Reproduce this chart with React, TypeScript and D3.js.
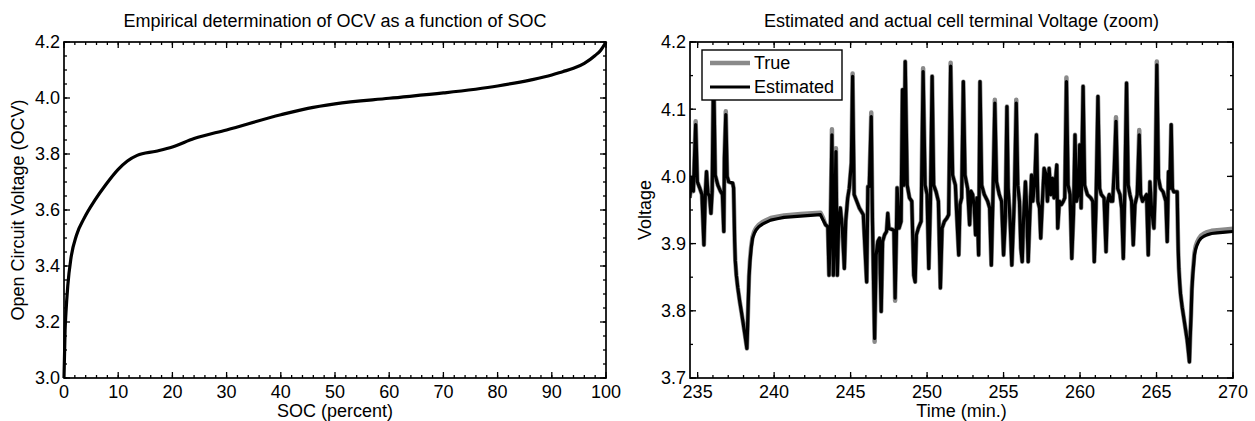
import { useEffect, useRef } from "react";
import * as d3 from "d3";

// left panel: OCV vs SOC
const socPct = [
  0, 0.2, 0.35, 0.7, 1.3, 2.3, 3.7, 5.7, 7.7, 10,
  11.7, 13.5, 17, 20, 24, 30, 40, 45, 50, 60,
  70, 80, 86, 90, 92, 94, 96, 98, 99, 100,
];
const ocvVolts = [
  3.0, 3.17, 3.23, 3.33, 3.43, 3.51, 3.57, 3.635, 3.69, 3.745,
  3.775, 3.795, 3.81, 3.825, 3.855, 3.886, 3.94, 3.963, 3.979, 3.999,
  4.018, 4.043, 4.064, 4.082, 4.094, 4.106, 4.124, 4.152, 4.17, 4.2,
];

const socTicks = [0, 10, 20, 30, 40, 50, 60, 70, 80, 90, 100];
const ocvTicks = [3.0, 3.2, 3.4, 3.6, 3.8, 4.0, 4.2];

// right panel: terminal voltage (zoom)
const timeMin = [
  234.48, 234.63, 234.72, 234.87, 234.98, 235.13, 235.28, 235.41, 235.5, 235.58,
  235.67, 235.78, 235.87, 235.95, 236.04, 236.15, 236.32, 236.49, 236.62, 236.71,
  236.75, 236.84, 236.93, 237.03,
  237.29, 237.35, 237.38, 237.42, 237.46, 237.53, 237.62, 237.75, 237.85, 237.96,
  238.08, 238.22, 238.27, 238.31, 238.36, 238.42, 238.5, 238.59, 238.7, 238.81,
  239.0, 239.24, 239.5, 239.78, 240.2, 240.65, 241.73, 243.03,
  243.2, 243.36, 243.51, 243.59, 243.68, 243.78, 243.87, 243.96, 244.04, 244.13,
  244.22, 244.33, 244.46, 244.59, 244.68, 244.81, 244.91, 245.05, 245.13, 245.23,
  245.4, 245.57, 245.83, 246.05, 246.13, 246.22, 246.35, 246.43, 246.57, 246.67,
  246.78, 246.89, 247.0, 247.09, 247.22, 247.35, 247.43, 247.5, 247.83, 247.91,
  248.0, 248.04, 248.17, 248.3, 248.39, 248.48, 248.57, 248.7, 248.85, 249.0,
  249.13, 249.22, 249.3, 249.43, 249.61, 249.74, 249.87, 250.0, 250.11, 250.22,
  250.33, 250.43, 250.59, 250.74, 250.87, 250.98, 251.13, 251.3, 251.41, 251.54,
  251.67, 251.85, 251.96, 252.07, 252.15, 252.26, 252.37, 252.48, 252.65, 252.78,
  252.87, 252.98, 253.09, 253.17, 253.26, 253.37, 253.46, 253.57, 253.74, 253.96,
  254.09, 254.2, 254.3, 254.43, 254.54, 254.72, 254.87, 255.0, 255.11, 255.22,
  255.3, 255.43, 255.54, 255.7, 255.83, 255.93, 256.04, 256.13, 256.22, 256.3,
  256.43, 256.52, 256.61, 256.72, 256.83, 256.91, 257.04, 257.15, 257.24, 257.35,
  257.43, 257.54, 257.65, 257.78, 257.87, 257.98, 258.09, 258.2, 258.3, 258.48,
  258.54, 258.65, 258.78, 258.91, 259.0, 259.11, 259.22, 259.35, 259.46, 259.57,
  259.67, 259.76, 259.87, 259.98, 260.07, 260.2, 260.3, 260.48, 260.7, 260.83,
  260.93, 261.04, 261.17, 261.28, 261.39, 261.57, 261.7, 261.8, 261.91, 262.0,
  262.13, 262.24, 262.35, 262.46, 262.61, 262.72, 262.83, 262.93, 263.04, 263.15,
  263.26, 263.37, 263.48, 263.59, 263.74, 263.87, 263.96, 264.09, 264.22, 264.35,
  264.46, 264.57, 264.67, 264.83, 264.91, 265.02, 265.13, 265.26, 265.43, 265.61,
  265.7, 265.78, 265.87, 265.96, 266.04, 266.13,
  266.35, 266.39, 266.42, 266.46, 266.52, 266.57, 266.68, 266.78, 266.9, 267.0,
  267.08, 267.15, 267.2, 267.26, 267.31, 267.37, 267.48, 267.56, 267.65, 267.78,
  267.91, 268.1, 268.3, 268.6, 268.96, 269.5, 270.0,
];

const estimatedV = [
  3.968, 3.997, 3.978, 4.077, 3.992, 3.983, 3.973, 3.898, 3.973, 4.007,
  3.975, 3.97, 3.945, 3.978, 4.16, 4.002, 3.987, 3.978, 3.973, 3.918,
  4.027, 4.092, 4.0, 3.992,
  3.99, 3.983, 3.95, 3.903, 3.875, 3.853, 3.835, 3.814, 3.8, 3.784,
  3.766, 3.744, 3.78, 3.814, 3.85, 3.873, 3.893, 3.908, 3.915, 3.92,
  3.925, 3.929, 3.932, 3.935, 3.937, 3.939, 3.941, 3.943,
  3.935, 3.928, 3.925, 3.853, 3.923, 4.062, 3.853, 3.923, 4.037, 3.853,
  3.933, 3.953, 3.923, 3.863, 3.933, 3.968, 3.982, 4.02, 4.149, 3.973,
  3.963, 3.953, 3.943, 3.843, 3.985, 3.985, 4.089, 3.933, 3.759, 3.883,
  3.903, 3.908, 3.799, 3.903, 3.913, 3.918, 3.945, 3.923, 3.92, 3.819,
  3.923, 3.983, 3.923, 3.933, 4.129, 3.987, 4.171, 3.987, 3.968, 3.963,
  3.853, 3.843, 3.913, 3.923, 3.933, 4.156, 3.987, 3.973, 3.863, 3.963,
  4.149, 3.987, 3.977, 3.963, 3.834, 3.923, 3.933, 3.938, 3.943, 4.164,
  4.002, 3.987, 3.933, 3.883, 3.958, 3.968, 4.141, 4.002, 3.982, 3.928,
  3.978, 3.973, 3.953, 3.913, 3.968, 3.883, 4.141, 3.987, 3.973, 3.963,
  3.953, 3.868, 3.963, 4.109, 3.992, 3.973, 3.963, 3.883, 3.933, 4.104,
  3.983, 3.933, 3.868, 3.963, 4.109, 3.987, 3.963, 3.893, 3.873, 3.933,
  3.992, 3.948, 3.873, 3.943, 4.002, 3.963, 3.992, 4.062, 3.963, 3.953,
  3.908, 3.963, 4.012, 4.002, 3.963, 4.012, 3.973, 3.997, 3.968, 4.017,
  3.923, 3.963, 3.958, 3.963, 3.968, 4.141, 3.987, 3.973, 3.878, 3.943,
  4.062, 3.963, 3.973, 4.047, 3.953, 4.134, 3.987, 3.973, 3.968, 3.963,
  3.873, 3.953, 4.119, 3.982, 3.973, 3.968, 3.888, 3.963, 3.973, 3.963,
  3.963, 4.012, 4.082, 3.982, 3.973, 3.953, 3.878, 3.982, 4.139, 3.987,
  3.973, 3.963, 3.898, 3.958, 3.973, 4.062, 3.973, 3.963, 3.968, 3.973,
  3.883, 3.992, 3.953, 3.923, 3.978, 4.166, 3.997, 3.982, 3.977, 3.963,
  3.903, 4.007, 3.982, 4.077, 3.982, 3.977,
  3.977, 3.923, 3.89, 3.863, 3.84, 3.825, 3.805, 3.79, 3.772, 3.757,
  3.74, 3.724, 3.76, 3.794, 3.83, 3.853, 3.883, 3.892, 3.898, 3.904,
  3.908, 3.911, 3.913, 3.915, 3.916, 3.917, 3.918,
];

const trueV = [
  3.968, 3.997, 3.978, 4.082, 3.992, 3.983, 3.973, 3.898, 3.973, 4.007,
  3.975, 3.97, 3.945, 3.978, 4.165, 4.002, 3.987, 3.978, 3.973, 3.918,
  4.027, 4.097, 4.0, 3.992,
  3.99, 3.983, 3.95, 3.903, 3.875, 3.853, 3.835, 3.814, 3.8, 3.784,
  3.766, 3.744, 3.78, 3.814, 3.852, 3.876, 3.896, 3.91, 3.918, 3.923,
  3.928, 3.932, 3.935, 3.938, 3.94, 3.942, 3.944, 3.946,
  3.938, 3.928, 3.925, 3.853, 3.923, 4.07, 3.853, 3.923, 4.042, 3.853,
  3.933, 3.953, 3.923, 3.863, 3.933, 3.968, 3.982, 4.02, 4.153, 3.973,
  3.963, 3.953, 3.943, 3.843, 3.985, 3.985, 4.095, 3.933, 3.754, 3.883,
  3.903, 3.908, 3.799, 3.903, 3.913, 3.918, 3.945, 3.923, 3.92, 3.815,
  3.923, 3.983, 3.923, 3.933, 4.129, 3.987, 4.171, 3.987, 3.968, 3.963,
  3.853, 3.843, 3.913, 3.923, 3.933, 4.161, 3.987, 3.973, 3.863, 3.963,
  4.149, 3.987, 3.977, 3.963, 3.834, 3.923, 3.933, 3.938, 3.943, 4.169,
  4.002, 3.987, 3.933, 3.883, 3.958, 3.968, 4.141, 4.002, 3.982, 3.928,
  3.978, 3.973, 3.953, 3.913, 3.968, 3.883, 4.141, 3.987, 3.973, 3.963,
  3.953, 3.868, 3.963, 4.114, 3.992, 3.973, 3.963, 3.883, 3.933, 4.104,
  3.983, 3.933, 3.868, 3.963, 4.114, 3.987, 3.963, 3.893, 3.873, 3.933,
  3.992, 3.948, 3.873, 3.943, 4.002, 3.963, 3.992, 4.062, 3.963, 3.953,
  3.908, 3.963, 4.012, 4.002, 3.963, 4.012, 3.973, 3.997, 3.968, 4.017,
  3.923, 3.963, 3.958, 3.963, 3.968, 4.147, 3.987, 3.973, 3.878, 3.943,
  4.062, 3.963, 3.973, 4.047, 3.953, 4.134, 3.987, 3.973, 3.968, 3.963,
  3.873, 3.953, 4.119, 3.982, 3.973, 3.968, 3.888, 3.963, 3.973, 3.963,
  3.963, 4.012, 4.088, 3.982, 3.973, 3.953, 3.878, 3.982, 4.139, 3.987,
  3.973, 3.963, 3.898, 3.958, 3.973, 4.069, 3.973, 3.963, 3.968, 3.973,
  3.883, 3.992, 3.953, 3.923, 3.978, 4.171, 3.997, 3.982, 3.977, 3.963,
  3.903, 4.007, 3.982, 4.077, 3.982, 3.977,
  3.977, 3.923, 3.89, 3.863, 3.84, 3.825, 3.805, 3.79, 3.772, 3.757,
  3.74, 3.724, 3.76, 3.796, 3.833, 3.856, 3.886, 3.896, 3.902, 3.908,
  3.912, 3.915, 3.917, 3.919, 3.92, 3.921, 3.922,
];

const timeTicks = [235, 240, 245, 250, 255, 260, 265, 270];
const voltTicks = [3.7, 3.8, 3.9, 4.0, 4.1, 4.2];
const legendLabels = ["True", "Estimated"];

const FONT = "'Liberation Sans', Arial, Helvetica, sans-serif";
const FS = "18px";

function drawFrame(g, x, y, xMajor, xMinor, yMajor, yMinor, xFmt, yFmt) {
  const [x0, x1] = x.range();
  const [y0, y1] = y.range(); // y0 bottom, y1 top
  const majorLen = 6;
  const minorLen = 3;

  const tick = (ax, ay, bx, by) =>
    g.append("line")
      .attr("x1", ax).attr("y1", ay).attr("x2", bx).attr("y2", by)
      .attr("stroke", "black").attr("stroke-width", 1.3);

  xMinor.forEach(v => {
    tick(x(v), y0, x(v), y0 - minorLen);
    tick(x(v), y1, x(v), y1 + minorLen);
  });
  xMajor.forEach(v => {
    tick(x(v), y0, x(v), y0 - majorLen);
    tick(x(v), y1, x(v), y1 + majorLen);
  });
  yMinor.forEach(v => {
    tick(x0, y(v), x0 + minorLen, y(v));
    tick(x1, y(v), x1 - minorLen, y(v));
  });
  yMajor.forEach(v => {
    tick(x0, y(v), x0 + majorLen, y(v));
    tick(x1, y(v), x1 - majorLen, y(v));
  });

  g.append("rect")
    .attr("x", x0).attr("y", y1)
    .attr("width", x1 - x0).attr("height", y0 - y1)
    .attr("fill", "none").attr("stroke", "black").attr("stroke-width", 1.7);

  g.selectAll(null).data(xMajor).enter().append("text")
    .attr("x", d => x(d)).attr("y", y0 + 20)
    .attr("text-anchor", "middle")
    .style("font-family", FONT).style("font-size", FS)
    .text(xFmt);

  g.selectAll(null).data(yMajor).enter().append("text")
    .attr("x", x0 - 4).attr("y", d => y(d))
    .attr("dy", "0.36em")
    .attr("text-anchor", "end")
    .style("font-family", FONT).style("font-size", FS)
    .text(yFmt);
}

const App = () => {
  const ref = useRef(null);

  useEffect(() => {
    const svg = d3.select(ref.current);
    svg.selectAll("*").remove();

    const top = 42;
    const bottom = 378;

    // ---- left panel ----
    const xL = d3.scaleLinear().domain([0, 100]).range([64, 606]);
    const yL = d3.scaleLinear().domain([3.0, 4.2]).range([bottom, top]);
    const gL = svg.append("g");

    const ocvLine = d3.line()
      .x((d, i) => xL(socPct[i]))
      .y(d => yL(d))
      .curve(d3.curveMonotoneX);

    gL.append("path")
      .datum(ocvVolts)
      .attr("fill", "none")
      .attr("stroke", "black")
      .attr("stroke-width", 3.2)
      .attr("stroke-linejoin", "round")
      .attr("d", ocvLine);

    drawFrame(
      gL, xL, yL,
      socTicks, d3.range(0, 101, 2),
      ocvTicks, d3.range(3.0, 4.2001, 0.05),
      d => d3.format("d")(d), d => d3.format(".1f")(d)
    );

    gL.append("text")
      .attr("x", 335).attr("y", 27)
      .attr("text-anchor", "middle")
      .style("font-family", FONT).style("font-size", FS)
      .text("Empirical determination of OCV as a function of SOC");

    gL.append("text")
      .attr("x", 335).attr("y", 417)
      .attr("text-anchor", "middle")
      .style("font-family", FONT).style("font-size", FS)
      .text("SOC (percent)");

    gL.append("text")
      .attr("transform", `translate(24,${(top + bottom) / 2}) rotate(-90)`)
      .attr("text-anchor", "middle")
      .style("font-family", FONT).style("font-size", FS)
      .text("Open Circuit Voltage (OCV)");

    // ---- right panel ----
    const rx0 = 690;
    const rx1 = 1233;
    const xR = d3.scaleLinear().domain([234.5, 270]).range([rx0, rx1]);
    const yR = d3.scaleLinear().domain([3.7, 4.2]).range([bottom, top]);
    const gR = svg.append("g");

    svg.append("clipPath").attr("id", "clipR")
      .append("rect")
      .attr("x", rx0).attr("y", top)
      .attr("width", rx1 - rx0).attr("height", bottom - top);

    const vLine = d3.line()
      .x((d, i) => xR(timeMin[i]))
      .y(d => yR(d));

    const lines = gR.append("g").attr("clip-path", "url(#clipR)");
    lines.append("path")
      .datum(trueV)
      .attr("fill", "none")
      .attr("stroke", "#8a8a8a")
      .attr("stroke-width", 4.5)
      .attr("stroke-linejoin", "round")
      .attr("d", vLine);
    lines.append("path")
      .datum(estimatedV)
      .attr("fill", "none")
      .attr("stroke", "black")
      .attr("stroke-width", 3.2)
      .attr("stroke-linejoin", "round")
      .attr("d", vLine);

    drawFrame(
      gR, xR, yR,
      timeTicks, d3.range(235, 270.001, 1),
      voltTicks, d3.range(3.7, 4.2001, 0.05),
      d => d3.format("d")(d), d => d3.format(".1f")(d)
    );

    gR.append("text")
      .attr("x", (rx0 + rx1) / 2).attr("y", 27)
      .attr("text-anchor", "middle")
      .style("font-family", FONT).style("font-size", FS)
      .text("Estimated and actual cell terminal Voltage (zoom)");

    gR.append("text")
      .attr("x", (rx0 + rx1) / 2).attr("y", 417)
      .attr("text-anchor", "middle")
      .style("font-family", FONT).style("font-size", FS)
      .text("Time (min.)");

    gR.append("text")
      .attr("transform", `translate(651,${(top + bottom) / 2}) rotate(-90)`)
      .attr("text-anchor", "middle")
      .style("font-family", FONT).style("font-size", FS)
      .text("Voltage");

    // legend
    const lg = gR.append("g").attr("transform", `translate(${rx0 + 12},50)`);
    lg.append("rect")
      .attr("width", 140).attr("height", 50)
      .attr("fill", "white").attr("stroke", "black").attr("stroke-width", 1.4);
    const legendColors = ["#8a8a8a", "black"];
    const legendWidths = [4.5, 3.2];
    legendLabels.forEach((lab, i) => {
      const yy = 13 + i * 24;
      lg.append("line")
        .attr("x1", 8).attr("x2", 48).attr("y1", yy).attr("y2", yy)
        .attr("stroke", legendColors[i]).attr("stroke-width", legendWidths[i]);
      lg.append("text")
        .attr("x", 52).attr("y", yy)
        .attr("dy", "0.36em")
        .style("font-family", FONT).style("font-size", FS)
        .text(lab);
    });
  }, []);

  return (
    <svg
      ref={ref}
      width="1255"
      height="421"
      style={{ position: "absolute", left: 0, top: 0, background: "white" }}
    />
  );
};

export default App;
